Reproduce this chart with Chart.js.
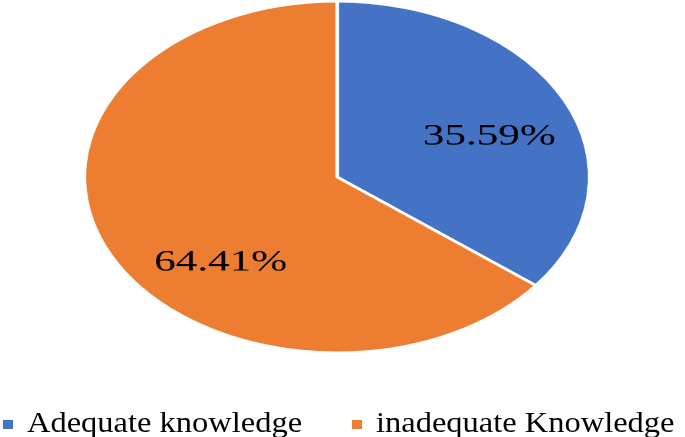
<!DOCTYPE html>
<html>
<head>
<meta charset="utf-8">
<script src="https://cdn.jsdelivr.net/npm/chart.js@4.4.1/dist/chart.umd.min.js"></script>
<style>
  html, body { margin: 0; padding: 0; background: #ffffff; }
  #wrap { position: relative; width: 685px; height: 437px; overflow: hidden; background: #fff; }
  #stretch { position: absolute; left: 0; top: 0; width: 477px; height: 354px; transform: scaleX(1.4375); transform-origin: 0 0; }
  #legend { position: absolute; left: 0; top: 0; width: 685px; height: 437px; pointer-events: none; }
  .item { position: absolute; top: 408px; height: 29px; line-height: 29px; font-family: 'Liberation Serif', 'Times New Roman', serif; font-size: 29px; color: #000; white-space: nowrap; }
  .box { position: absolute; top: 12px; width: 10px; height: 9px; }
  .txt { position: absolute; left: 24px; top: 0; transform: scaleX(1.12); transform-origin: 0 0; }
</style>
</head>
<body>
<div id="wrap">
  <div id="stretch"><canvas id="c" width="477" height="354"></canvas></div>
  <div id="legend"></div>
</div>
<script>
const categories = ['Adequate knowledge', 'inadequate Knowledge'];
const values = [35.59, 64.41];
const valueLabels = ['35.59%', '64.41%'];
const colors = ['#4472C4', '#ED7D31'];

const sliceLabels = {
  id: 'sliceLabels',
  afterDatasetsDraw(chart, args, opts) {
    const ctx = chart.ctx;
    const meta = chart.getDatasetMeta(0);
    ctx.save();
    ctx.font = opts.font;
    ctx.fillStyle = opts.color;
    ctx.textAlign = 'center';
    ctx.textBaseline = 'middle';
    meta.data.forEach((arc, i) => {
      const p = arc.getProps(['x', 'y', 'startAngle', 'endAngle', 'outerRadius'], true);
      const place = opts.place[i];
      const mid = (p.startAngle + p.endAngle) / 2 + place.shift;
      const r = p.outerRadius * place.r;
      ctx.fillText(valueLabels[i], p.x + Math.cos(mid) * r, p.y + Math.sin(mid) * r);
    });
    ctx.restore();
  }
};

const chart = new Chart(document.getElementById('c'), {
  type: 'pie',
  data: {
    labels: categories,
    datasets: [{
      data: values,
      backgroundColor: colors,
      borderColor: '#ffffff',
      borderWidth: 2.5,
      hoverOffset: 0
    }]
  },
  options: {
    responsive: false,
    devicePixelRatio: 2,
    animation: false,
    layout: { padding: { left: 0, right: 8, top: 0, bottom: 0 } },
    plugins: {
      legend: { display: false },
      tooltip: { enabled: false },
      sliceLabels: {
        font: "30px 'Liberation Serif', 'Times New Roman', serif",
        color: '#000000',
        place: [ { r: 0.644, shift: 0.09 }, { r: 0.67, shift: -0.36 } ]
      }
    }
  },
  plugins: [sliceLabels]
});

// HTML legend built from the chart's own labels and colours
const legendLeft = [3, 352];
const legend = document.getElementById('legend');
chart.data.labels.forEach((lab, i) => {
  const item = document.createElement('div');
  item.className = 'item';
  item.style.left = legendLeft[i] + 'px';
  const box = document.createElement('span');
  box.className = 'box';
  box.style.background = chart.data.datasets[0].backgroundColor[i];
  const txt = document.createElement('span');
  txt.className = 'txt';
  txt.textContent = lab;
  item.appendChild(box);
  item.appendChild(txt);
  legend.appendChild(item);
});
</script>
</body>
</html>
